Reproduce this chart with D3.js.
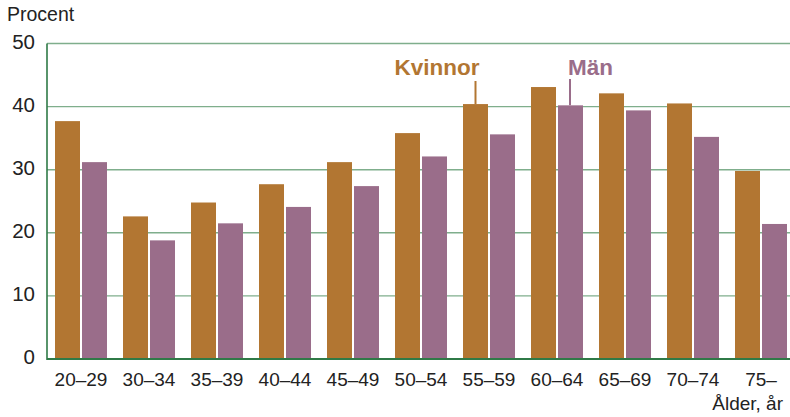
<!DOCTYPE html>
<html>
<head>
<meta charset="utf-8">
<script src="https://cdn.jsdelivr.net/npm/d3@7"></script>
<style>
  body { margin: 0; background: #fff; }
  text { font-family: "Liberation Sans", Arial, sans-serif; fill: #222; }
</style>
</head>
<body>
<script>
// data
const ageGroups = ["20–29", "30–34", "35–39", "40–44", "45–49", "50–54", "55–59", "60–64", "65–69", "70–74", "75–"];
const kvinnor = [37.7, 22.6, 24.8, 27.7, 31.2, 35.8, 40.4, 43.1, 42.1, 40.5, 29.8];
const man = [31.2, 18.8, 21.5, 24.1, 27.4, 32.1, 35.6, 40.2, 39.4, 35.2, 21.4];
const yTicks = [0, 10, 20, 30, 40, 50];
const seriesNames = ["Kvinnor", "Män"];
const colors = {Kvinnor: "#b27632", "Män": "#9a6d8a"};

const width = 790, height = 417;
const plotLeft = 47, plotRight = 795, plotTop = 43.5, plotBottom = 359;

const svg = d3.select("body").append("svg")
              .attr("width", width)
              .attr("height", height);

const x0 = d3.scaleBand().domain(ageGroups).range([plotLeft, plotRight]);
const x1 = d3.scaleBand().domain(seriesNames).range([8, 60]).paddingInner(2 - 52 / 27);
const y = d3.scaleLinear().domain([0, 50]).range([plotBottom, plotTop]);

// grid lines
svg.append("g").selectAll("line")
   .data(yTicks.filter(d => d > 0))
   .join("line")
   .attr("x1", plotLeft)
   .attr("x2", width)
   .attr("y1", d => y(d))
   .attr("y2", d => y(d))
   .attr("stroke", "#7fae8c")
   .attr("stroke-width", 1.4);

// bars
const rows = ageGroups.map((g, i) => ({group: g, values: [
  {name: "Kvinnor", v: kvinnor[i]},
  {name: "Män", v: man[i]}
]}));

svg.append("g").selectAll("g")
   .data(rows)
   .join("g")
   .attr("transform", d => "translate(" + x0(d.group) + ",0)")
   .selectAll("rect")
   .data(d => d.values)
   .join("rect")
   .attr("x", d => x1(d.name))
   .attr("width", x1.bandwidth())
   .attr("y", d => y(d.v))
   .attr("height", d => y(0) - y(d.v))
   .attr("fill", d => colors[d.name]);

// axis lines
svg.append("line")
   .attr("x1", plotLeft).attr("x2", plotLeft)
   .attr("y1", plotTop).attr("y2", plotBottom + 1)
   .attr("stroke", "#2f7a47").attr("stroke-width", 1.6);
svg.append("line")
   .attr("x1", plotLeft).attr("x2", width)
   .attr("y1", plotBottom).attr("y2", plotBottom)
   .attr("stroke", "#2f7a47").attr("stroke-width", 1.8);

// y tick labels
svg.append("g").selectAll("text")
   .data(yTicks)
   .join("text")
   .attr("x", 35)
   .attr("y", d => y(d) + 5)
   .attr("text-anchor", "end")
   .attr("font-size", 20.5)
   .text(d => d);

svg.append("text")
   .attr("x", 7).attr("y", 21)
   .attr("font-size", 19.5)
   .text("Procent");

// x labels
svg.append("g").selectAll("text")
   .data(ageGroups)
   .join("text")
   .attr("x", d => x0(d) + 34)
   .attr("y", 386)
   .attr("text-anchor", "middle")
   .attr("font-size", 19)
   .text(d => d);

svg.append("text")
   .attr("x", 783).attr("y", 410)
   .attr("text-anchor", "end")
   .attr("font-size", 19)
   .text("Ålder, år");

// labels with leader lines
const kvX = x0("55–59") + x1("Kvinnor") + x1.bandwidth() * 0.5;
svg.append("line")
   .attr("x1", kvX).attr("x2", kvX)
   .attr("y1", 81).attr("y2", y(kvinnor[6]))
   .attr("stroke", colors.Kvinnor).attr("stroke-width", 2);
svg.append("text")
   .attr("x", kvX + 4).attr("y", 75)
   .attr("text-anchor", "end")
   .attr("font-size", 22.5).attr("font-weight", "bold")
   .style("fill", colors.Kvinnor)
   .text("Kvinnor");

const manX = x0("60–64") + x1("Män") + 12;
svg.append("line")
   .attr("x1", manX).attr("x2", manX)
   .attr("y1", 79).attr("y2", y(man[7]))
   .attr("stroke", colors["Män"]).attr("stroke-width", 2);
svg.append("text")
   .attr("x", manX - 2).attr("y", 75)
   .attr("font-size", 22.5).attr("font-weight", "bold")
   .style("fill", colors["Män"])
   .text("Män");
</script>
</body>
</html>
